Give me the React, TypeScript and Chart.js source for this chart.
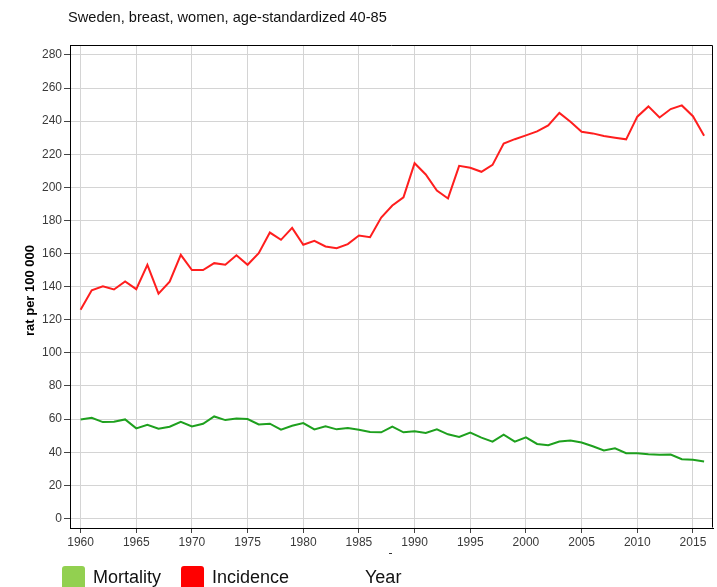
import React, { useEffect, useRef } from "react";
import { Chart, registerables } from "chart.js";

Chart.register(...registerables);

const TITLE = "Sweden, breast, women, age-standardized 40-85";
const Y_TITLE = "rat per 100 000";
const X_TITLE = "Year";

const YEARS = [
  1960, 1961, 1962, 1963, 1964, 1965, 1966, 1967, 1968, 1969,
  1970, 1971, 1972, 1973, 1974, 1975, 1976, 1977, 1978, 1979,
  1980, 1981, 1982, 1983, 1984, 1985, 1986, 1987, 1988, 1989,
  1990, 1991, 1992, 1993, 1994, 1995, 1996, 1997, 1998, 1999,
  2000, 2001, 2002, 2003, 2004, 2005, 2006, 2007, 2008, 2009,
  2010, 2011, 2012, 2013, 2014, 2015, 2016,
];

const INCIDENCE = [
  126, 137.8, 140.2, 138.3, 143.2, 138.5, 153.2, 135.8, 143, 159.2,
  150, 150, 154.2, 153.2, 159, 153.2, 160.2, 172.7, 168.3, 175.5,
  165.3, 167.7, 164.3, 163.2, 165.7, 170.9, 169.9, 181.8, 189, 194,
  214.6, 207.8, 198.1, 193.3, 213, 211.8, 209.4, 213.6, 226.5, 229.1,
  231.4, 233.8, 237.4, 245, 239.6, 233.6, 232.6, 231, 230, 229,
  242.7, 248.9, 242.2, 247.3, 249.5, 243, 231.2,
];

const MORTALITY = [
  59.8, 60.8, 58.2, 58.4, 59.8, 54.4, 56.6, 54.2, 55.4, 58.4,
  55.6, 57.2, 61.6, 59.4, 60.4, 60, 56.8, 57.2, 53.6, 56,
  57.6, 53.8, 55.6, 53.8, 54.6, 53.6, 52.2, 52, 55.4, 52,
  52.6, 51.6, 53.8, 50.8, 49.2, 51.8, 48.8, 46.4, 50.6, 46.4,
  49, 45, 44.2, 46.4, 47, 45.8, 43.6, 41, 42.4, 39.4,
  39.4, 38.8, 38.4, 38.6, 35.8, 35.4, 34.4,
];

const X_TICKS = [1960, 1965, 1970, 1975, 1980, 1985, 1990, 1995, 2000, 2005, 2010, 2015];
const Y_TICKS = [0, 20, 40, 60, 80, 100, 120, 140, 160, 180, 200, 220, 240, 260, 280];

const LEGEND = [
  { label: "Mortality", color: "#92d050" },
  { label: "Incidence", color: "#ff0000" },
];

const FONT = "'Liberation Sans', Arial, sans-serif";

const decorPlugin = {
  id: "decor",
  beforeDatasetsDraw(chart: any) {
    const { ctx, chartArea } = chart;
    const { left, right, top, bottom } = chartArea;
    ctx.save();
    ctx.strokeStyle = "#000";
    ctx.lineWidth = 1;
    ctx.beginPath();
    ctx.moveTo(left + 0.5, top + 0.5);
    ctx.lineTo(right - 0.5, top + 0.5);
    ctx.lineTo(right - 0.5, bottom - 0.5);
    ctx.stroke();
    ctx.restore();
  },
  afterDraw(chart: any) {
    const { ctx, chartArea } = chart;
    ctx.save();
    // title
    ctx.fillStyle = "#111";
    ctx.font = `14.6px ${FONT}`;
    ctx.textAlign = "left";
    ctx.textBaseline = "middle";
    ctx.fillText(TITLE, 68, 18);
    // y axis title
    ctx.save();
    ctx.translate(30, (chartArea.top + chartArea.bottom) / 2 + 4);
    ctx.rotate(-Math.PI / 2);
    ctx.font = `bold 13px ${FONT}`;
    ctx.textAlign = "center";
    ctx.fillStyle = "#000";
    ctx.fillText(Y_TITLE, 0, 0);
    ctx.restore();
    // small dash
    ctx.fillStyle = "#333";
    ctx.fillRect(389, 553, 3, 1);
    // legend
    let x = 62;
    const y = 566;
    ctx.font = `18px ${FONT}`;
    ctx.textBaseline = "middle";
    for (const item of LEGEND) {
      ctx.fillStyle = item.color;
      ctx.beginPath();
      if ((ctx as any).roundRect) {
        (ctx as any).roundRect(x, y, 23, 26, 3);
      } else {
        ctx.rect(x, y, 23, 26);
      }
      ctx.fill();
      ctx.fillStyle = "#111";
      ctx.fillText(item.label, x + 31, 578);
      x += 31 + ctx.measureText(item.label).width + 20;
    }
    ctx.fillText(X_TITLE, 365, 578);
    ctx.restore();
  },
};

export default function App() {
  const ref = useRef<HTMLCanvasElement>(null);
  useEffect(() => {
    if (!ref.current) return;
    const chart = new Chart(ref.current, {
      type: "line",
      data: {
        datasets: [
          {
            label: "Incidence",
            data: YEARS.map((yr, i) => ({ x: yr, y: INCIDENCE[i] })),
            borderColor: "#ff1e1e",
            borderWidth: 2,
            pointRadius: 0,
            tension: 0,
            fill: false,
          },
          {
            label: "Mortality",
            data: YEARS.map((yr, i) => ({ x: yr, y: MORTALITY[i] })),
            borderColor: "#1ea01e",
            borderWidth: 2,
            pointRadius: 0,
            tension: 0,
            fill: false,
          },
        ],
      },
      options: {
        responsive: false,
        animation: false,
        layout: { padding: { top: 45, right: 4, left: 0, bottom: 0 } },
        plugins: {
          legend: { display: false },
          title: { display: false },
          tooltip: { enabled: false },
        },
        scales: {
          x: {
            type: "linear",
            min: 1959.05,
            max: 2016.8,
            afterBuildTicks: (s: any) => {
              s.ticks = X_TICKS.map((v) => ({ value: v }));
            },
            afterFit: (s: any) => {
              s.height = 59;
            },
            grid: {
              color: "#d4d4d4",
              lineWidth: 1,
              tickLength: 5,
              tickColor: "#444",
            },
            border: { color: "#000", width: 1 },
            ticks: {
              autoSkip: false,
              maxRotation: 0,
              padding: 2,
              color: "#3a3a3a",
              font: { family: FONT, size: 12 },
              callback: (v: any) => String(v),
            },
          },
          y: {
            type: "linear",
            min: -5.8,
            max: 286,
            afterBuildTicks: (s: any) => {
              s.ticks = Y_TICKS.map((v) => ({ value: v }));
            },
            afterFit: (s: any) => {
              s.width = 70;
            },
            grid: {
              color: "#d4d4d4",
              lineWidth: 1,
              tickLength: 6,
              tickColor: "#444",
            },
            border: { color: "#000", width: 1 },
            ticks: {
              padding: 2,
              color: "#3a3a3a",
              font: { family: FONT, size: 12 },
              callback: (v: any) => String(v),
            },
          },
        },
      },
      plugins: [decorPlugin],
    } as any);
    return () => chart.destroy();
  }, []);
  return (
    <div style={{ position: "absolute", left: 0, top: 0, width: 717, height: 587, background: "#fff" }}>
      <canvas ref={ref} width={717} height={587} style={{ width: 717, height: 587, display: "block" }} />
    </div>
  );
}
